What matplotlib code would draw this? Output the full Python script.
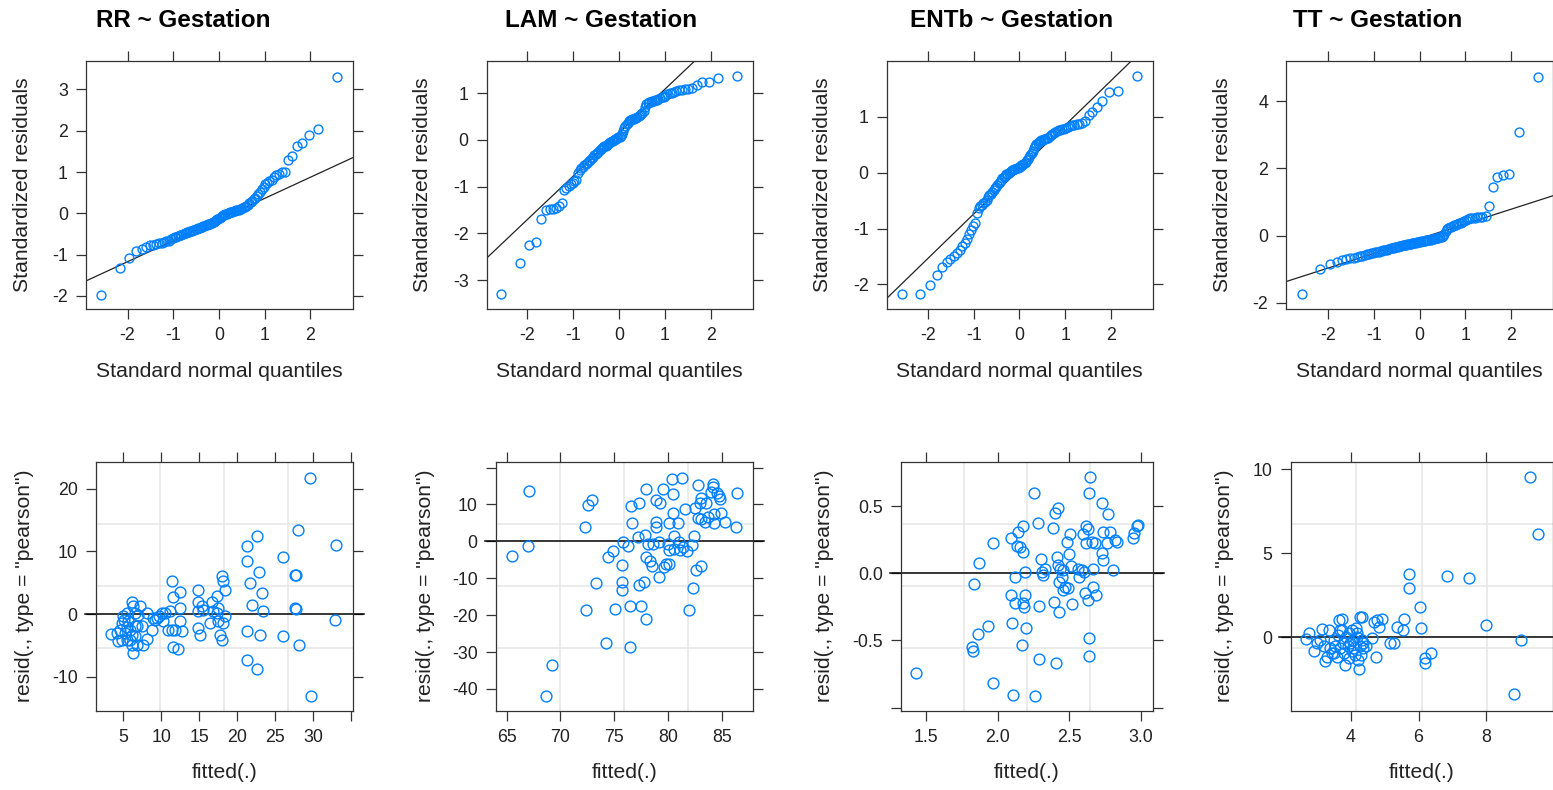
"""Lattice-style residual diagnostics for four gestation models (QQ + Pearson residuals)."""

import matplotlib

matplotlib.use("Agg")
import matplotlib.pyplot as plt

# ---------------------------------------------------------------- data
models = ["RR", "LAM", "ENTb", "TT"]

# theoretical normal quantiles of the 100 residuals (same for every model)
qq_quantiles = [
    -2.576, -2.170, -1.960, -1.812, -1.695, -1.598, -1.514, -1.440, -1.372, -1.311,
    -1.254, -1.200, -1.150, -1.103, -1.058, -1.015, -0.974, -0.935, -0.896, -0.860,
    -0.824, -0.789, -0.755, -0.722, -0.690, -0.659, -0.628, -0.598, -0.568, -0.539,
    -0.510, -0.482, -0.454, -0.426, -0.399, -0.372, -0.345, -0.319, -0.292, -0.266,
    -0.240, -0.215, -0.189, -0.164, -0.138, -0.113, -0.088, -0.063, -0.038, -0.013,
    0.013, 0.038, 0.063, 0.088, 0.113, 0.138, 0.164, 0.189, 0.215, 0.240,
    0.266, 0.292, 0.319, 0.345, 0.372, 0.399, 0.426, 0.454, 0.482, 0.510,
    0.539, 0.568, 0.598, 0.628, 0.659, 0.690, 0.722, 0.755, 0.789, 0.824,
    0.860, 0.896, 0.935, 0.974, 1.015, 1.058, 1.103, 1.150, 1.200, 1.254,
    1.311, 1.372, 1.440, 1.514, 1.598, 1.695, 1.812, 1.960, 2.170, 2.576,
]

rr_std_resid = [
    -1.97, -1.32, -1.09, -0.92, -0.86, -0.81, -0.78, -0.77, -0.75, -0.73,
    -0.71, -0.70, -0.68, -0.66, -0.63, -0.60, -0.58, -0.57, -0.55, -0.53,
    -0.52, -0.50, -0.49, -0.47, -0.46, -0.45, -0.44, -0.42, -0.41, -0.40,
    -0.39, -0.38, -0.36, -0.35, -0.34, -0.33, -0.32, -0.31, -0.29, -0.28,
    -0.27, -0.26, -0.25, -0.24, -0.22, -0.21, -0.19, -0.17, -0.15, -0.13,
    -0.11, -0.09, -0.07, -0.05, -0.03, -0.02, -0.01, 0.00, 0.01, 0.02,
    0.03, 0.04, 0.05, 0.06, 0.07, 0.08, 0.09, 0.10, 0.11, 0.12,
    0.14, 0.16, 0.18, 0.21, 0.24, 0.27, 0.30, 0.34, 0.38, 0.42,
    0.47, 0.52, 0.58, 0.64, 0.70, 0.74, 0.77, 0.80, 0.88, 0.93,
    0.96, 0.99, 1.01, 1.28, 1.39, 1.64, 1.70, 1.90, 2.05, 3.30,
]
lam_std_resid = [
    -3.30, -2.64, -2.26, -2.19, -1.69, -1.49, -1.48, -1.47, -1.45, -1.41,
    -1.36, -1.07, -1.02, -0.98, -0.95, -0.92, -0.88, -0.85, -0.70, -0.64,
    -0.60, -0.57, -0.54, -0.51, -0.49, -0.46, -0.42, -0.39, -0.36, -0.33,
    -0.31, -0.29, -0.26, -0.22, -0.20, -0.18, -0.16, -0.14, -0.12, -0.10,
    -0.08, -0.06, -0.04, -0.03, -0.02, -0.01, 0.01, 0.02, 0.04, 0.06,
    0.07, 0.09, 0.12, 0.20, 0.26, 0.30, 0.34, 0.37, 0.40, 0.42,
    0.43, 0.44, 0.45, 0.46, 0.48, 0.50, 0.52, 0.54, 0.56, 0.58,
    0.62, 0.70, 0.76, 0.79, 0.81, 0.82, 0.83, 0.84, 0.85, 0.86,
    0.88, 0.90, 0.91, 0.92, 0.94, 0.98, 1.00, 1.01, 1.02, 1.04,
    1.06, 1.07, 1.08, 1.09, 1.11, 1.17, 1.23, 1.24, 1.33, 1.37,
]
entb_std_resid = [
    -2.18, -2.17, -2.01, -1.83, -1.68, -1.60, -1.54, -1.50, -1.44, -1.38,
    -1.32, -1.26, -1.18, -1.10, -1.02, -0.96, -0.90, -0.72, -0.64, -0.60,
    -0.57, -0.55, -0.52, -0.48, -0.44, -0.40, -0.38, -0.35, -0.31, -0.28,
    -0.25, -0.22, -0.19, -0.16, -0.13, -0.10, -0.07, -0.05, -0.03, -0.02,
    -0.01, 0.01, 0.03, 0.04, 0.05, 0.06, 0.07, 0.08, 0.09, 0.10,
    0.11, 0.13, 0.14, 0.15, 0.17, 0.19, 0.22, 0.25, 0.28, 0.31,
    0.35, 0.39, 0.44, 0.48, 0.51, 0.53, 0.55, 0.57, 0.58, 0.59,
    0.60, 0.61, 0.62, 0.63, 0.65, 0.67, 0.69, 0.71, 0.73, 0.75,
    0.76, 0.77, 0.78, 0.79, 0.80, 0.81, 0.83, 0.85, 0.86, 0.87,
    0.88, 0.89, 0.92, 1.04, 1.08, 1.18, 1.29, 1.45, 1.46, 1.73,
]
tt_std_resid = [
    -1.75, -0.99, -0.85, -0.80, -0.73, -0.70, -0.68, -0.66, -0.64, -0.62,
    -0.60, -0.58, -0.56, -0.54, -0.53, -0.52, -0.50, -0.49, -0.48, -0.46,
    -0.45, -0.44, -0.43, -0.42, -0.41, -0.39, -0.38, -0.37, -0.36, -0.35,
    -0.34, -0.33, -0.32, -0.31, -0.30, -0.29, -0.29, -0.28, -0.27, -0.26,
    -0.25, -0.25, -0.24, -0.23, -0.22, -0.22, -0.21, -0.20, -0.20, -0.19,
    -0.18, -0.17, -0.17, -0.16, -0.15, -0.14, -0.14, -0.13, -0.12, -0.12,
    -0.11, -0.10, -0.09, -0.08, -0.07, -0.06, -0.05, -0.04, -0.03, -0.02,
    0.05, 0.14, 0.18, 0.21, 0.24, 0.26, 0.28, 0.30, 0.32, 0.34,
    0.36, 0.38, 0.40, 0.43, 0.46, 0.49, 0.51, 0.52, 0.53, 0.54,
    0.55, 0.56, 0.58, 0.89, 1.45, 1.74, 1.81, 1.84, 3.07, 4.73,
]

# reference line of each QQ panel (slope, intercept)
qq_line_slope = [0.512, 0.929, 0.793, 0.439]
qq_line_intercept = [-0.15, 0.155, 0.057, -0.093]

rr_fitted = [
    3.34, 4.13, 4.35, 4.57, 4.79, 4.79, 5.0, 5.1, 5.22, 5.44, 5.44, 5.44, 5.66, 5.88,
    5.88, 6.1, 6.1, 6.1, 6.31, 6.31, 6.53, 6.53, 6.53, 6.75, 6.75, 6.97, 7.19, 7.41,
    7.63, 8.07, 8.07, 8.73, 8.95, 9.17, 9.39, 9.74, 10.05, 10.27, 10.48, 10.92, 11.14,
    11.36, 11.36, 11.58, 11.58, 11.8, 12.24, 12.46, 12.46, 12.46, 12.67, 14.87, 14.87,
    14.87, 14.87, 15.09, 15.3, 15.53, 16.4, 16.62, 16.84, 17.28, 17.28, 17.5, 17.5,
    17.72, 17.94, 17.94, 18.16, 18.16, 18.38, 18.38, 21.24, 21.24, 21.24, 21.24, 21.68,
    21.9, 22.56, 22.56, 22.9, 23.0, 23.2, 23.4, 25.95, 26.04, 27.57, 27.7, 27.57, 27.7,
    28.0, 28.1, 29.6, 29.7, 33.0, 32.9,
]
rr_pearson = [
    -3.19, -3.03, -4.36, -2.5, -1.44, -4.1, -0.38, -0.9, -3.03, -4.1, -2.0, 0.16, -1.17,
    -2.5, -4.1, 2.01, -5.0, -3.3, -6.17, 1.22, 0.16, -3.56, -1.97, -1.97, -5.0, -0.1,
    1.22, -1.97, -4.87, -3.91, 0.16, -2.5, -0.64, -0.91, -0.64, -0.38, 0.16, -1.17, 0.16,
    -2.5, 0.42, -2.5, 5.2, 2.8, -5.27, -2.5, -5.53, 3.6, 0.95, -1.17, -2.76, 3.86, 2.01,
    0.42, -2.23, -3.3, 1.22, 0.69, -1.44, 2.01, 0.42, 2.81, 0.16, 0.95, -1.17, -3.3,
    -4.1, 6.1, 5.2, -1.44, 3.86, -0.38, 10.78, 8.4, -2.76, -7.3, 5.0, 1.49, 12.5, -8.8,
    6.7, -3.3, 3.3, 0.42, 9.1, -3.56, 6.24, 6.3, 0.95, 0.8, 13.4, -5.0, 21.7, -13.0,
    11.0, -1.0,
]

lam_fitted = [
    65.47, 67.11, 67.01, 68.69, 69.22, 72.32, 72.42, 72.57, 72.94, 73.35, 74.22, 74.43,
    74.9, 75.06, 75.77, 75.83, 75.77, 75.77, 76.3, 76.5, 76.5, 76.6, 76.7, 77.23, 77.3,
    77.3, 77.5, 77.8, 77.9, 78.0, 78.0, 78.0, 78.1, 78.3, 78.5, 78.6, 78.9, 78.9, 78.9,
    79.2, 79.2, 79.3, 79.5, 79.6, 79.8, 80.0, 80.1, 80.1, 80.1, 80.4, 80.5, 80.5, 80.6,
    80.6, 80.9, 81.0, 81.1, 81.3, 81.4, 81.6, 81.8, 82.0, 82.2, 82.3, 82.4, 82.5, 82.6,
    82.8, 82.8, 83.0, 83.1, 83.1, 83.1, 83.4, 83.5, 83.7, 84.0, 84.2, 84.2, 84.3, 84.3,
    84.6, 84.7, 84.8, 84.9, 85.3, 86.3, 86.4,
]
lam_pearson = [
    -3.99, 13.64, -1.2, -41.9, -33.6, 3.9, -18.6, 9.99, 11.25, -11.4, -27.6, -4.35,
    -2.6, -18.4, -6.4, -0.1, -11.1, -13.1, -1.2, -28.6, -17.5, 9.5, 5.0, 1.2, 10.4,
    -11.7, -17.4, -10.9, 1.7, 14.1, -4.3, -21.1, -0.6, -5.2, -6.7, -0.6, 11.2, 4.0, 5.3,
    -0.1, -9.6, 10.5, 14.1, -7.0, -6.1, -0.6, 4.9, -2.3, -6.1, 16.9, 12.8, 7.8, 1.5,
    -2.2, 4.9, -0.3, -2.4, 17.3, -1.6, 8.8, -2.5, -18.6, -0.9, -12.6, 1.4, 9.1, -7.7,
    15.4, 6.3, 10.4, -6.8, 11.7, 6.2, 5.3, 10.4, 6.6, 13.4, 15.6, 14.7, 7.4, 4.9,
    13.1, 12.2, 11.5, 7.8, 5.3, 4.0, 13.2,
]

entb_fitted = [
    1.430, 1.835, 1.819, 1.826, 1.865, 1.872, 1.935, 1.965, 1.970, 2.091, 2.091, 2.098,
    2.110, 2.121, 2.121, 2.133, 2.144, 2.156, 2.168, 2.175, 2.179, 2.179, 2.184, 2.191,
    2.191, 2.198, 2.254, 2.261, 2.284, 2.291, 2.291, 2.300, 2.307, 2.319, 2.330, 2.384,
    2.393, 2.400, 2.407, 2.416, 2.423, 2.423, 2.430, 2.430, 2.435, 2.447, 2.454, 2.458,
    2.470, 2.481, 2.493, 2.500, 2.505, 2.510, 2.516, 2.563, 2.570, 2.586, 2.593, 2.603,
    2.610, 2.617, 2.617, 2.633, 2.633, 2.640, 2.644, 2.640, 2.640, 2.656, 2.668, 2.668,
    2.679, 2.686, 2.726, 2.726, 2.733, 2.737, 2.761, 2.772, 2.784, 2.803, 2.819, 2.830,
    2.947, 2.951, 2.970, 2.982,
]
entb_pearson = [
    -0.745, -0.082, -0.546, -0.58, -0.455, 0.079, -0.393, -0.82, 0.223, 0.265, -0.163,
    -0.368, -0.906, -0.025, -0.224, 0.203, 0.310, 0.198, -0.534, 0.161, 0.352, -0.219,
    -0.248, -0.163, 0.012, -0.41, 0.600, -0.911, 0.377, -0.641, -0.243, 0.104, 0.012,
    -0.013, 0.029, 0.335, -0.211, 0.452, -0.67, 0.122, 0.484, 0.060, -0.062, -0.285,
    0.035, -0.025, -0.124, 0.022, -0.099, 0.236, -0.111, 0.146, 0.293, 0.057, -0.228,
    0.035, -0.025, 0.022, 0.293, 0.012, -0.149, 0.352, 0.228, 0.327, -0.199, 0.600,
    0.714, -0.479, -0.616, 0.236, -0.099, 0.035, 0.223, -0.163, 0.526, 0.149, 0.099,
    0.310, 0.223, 0.442, 0.310, 0.022, 0.248, 0.236, 0.260, 0.298, 0.352, 0.360,
]

tt_fitted = [
    2.68, 2.77, 2.91, 3.01, 3.09, 3.14, 3.19, 3.24, 3.29, 3.34, 3.39, 3.44, 3.49, 3.49,
    3.54, 3.58, 3.63, 3.66, 3.68, 3.68, 3.73, 3.73, 3.76, 3.80, 3.83, 3.86, 3.90, 3.93,
    3.93, 3.98, 4.03, 4.03, 4.06, 4.10, 4.13, 4.16, 4.18, 4.18, 4.20, 4.23, 4.26, 4.28,
    4.30, 4.33, 4.33, 4.35, 4.37, 4.45, 4.62, 4.69, 4.75, 4.77, 4.82, 4.92, 5.16, 5.26,
    5.36, 5.54, 5.58, 5.71, 5.71, 6.03, 6.07, 6.20, 6.20, 6.37, 6.84, 7.49, 7.98, 8.82,
    9.02, 9.29, 9.53,
]
tt_pearson = [
    -0.12, 0.28, -0.79, -0.36, -0.15, 0.48, -0.54, -1.39, -1.15, 0.43, -0.64, -0.94,
    -0.15, -0.94, -0.54, -1.15, 0.13, 1.0, -0.64, 0.43, 1.1, 0.43, -0.36, -0.94, -1.65,
    0.03, -0.54, -1.25, 0.23, -0.36, -0.84, 0.43, -0.15, -0.64, -1.05, 0.58, 0.03, 0.23,
    -1.35, -1.9, 1.22, -0.54, -1.05, 1.22, -0.15, -0.64, -0.36, -0.54, -0.05, 0.88,
    -1.19, 1.0, 0.63, 1.1, -0.34, -0.34, 0.63, 0.43, 1.1, 3.74, 2.96, 1.82, 0.57, -1.21,
    -1.55, -0.94, 3.66, 3.51, 0.73, -3.4, -0.15, 9.52, 6.17,
]

qq_resid = [rr_std_resid, lam_std_resid, entb_std_resid, tt_std_resid]
fitted = [rr_fitted, lam_fitted, entb_fitted, tt_fitted]
pearson = [rr_pearson, lam_pearson, entb_pearson, tt_pearson]

qq_yticks = [[-2, -1, 0, 1, 2, 3], [-3, -2, -1, 0, 1], [-2, -1, 0, 1], [-2, 0, 2, 4]]
res_xticks = [[5, 10, 15, 20, 25, 30, 35], [65, 70, 75, 80, 85], [1.5, 2.0, 2.5, 3.0], [4, 6, 8]]
res_xlabels = [["5", "10", "15", "20", "25", "30", ""], ["65", "70", "75", "80", "85"],
               ["1.5", "2.0", "2.5", "3.0"], ["4", "6", "8"]]
res_yticks = [[-10, 0, 10, 20], [-40, -30, -20, -10, 0, 10, 20], [-1.0, -0.5, 0.0, 0.5], [0, 5, 10]]
res_ylabels = [["-10", "0", "10", "20"], ["-40", "-30", "-20", "-10", "0", "10", ""],
               ["", "-0.5", "0.0", "0.5"], ["0", "5", "10"]]

# ---------------------------------------------------------------- layout (pixels)
W, H = 1553, 790
QQ_BOX = [(86, 353), (486.7, 752.7), (886.7, 1152.7), (1286.3, 1552.5)]
QQ_TOP, QQ_BOTTOM = 61, 309
RES_BOX = [(95.7, 352.7), (495.7, 752.7), (901, 1153), (1290.7, 1552.5)]
RES_TOP, RES_BOTTOM = 461.7, 710.7
QQ_XLIM = [(-2.91, 2.93), (-2.89, 2.92), (-2.91, 2.92), (-2.91, 2.90)]
QQ_YLIM = [(-2.32, 3.69), (-3.62, 1.69), (-2.44, 2.0), (-2.19, 5.2)]
RES_XLIM = [(1.37, 35.18), (63.98, 87.88), (1.326, 3.084), (2.22, 9.96)]
RES_YLIM = [(-15.4, 24.3), (-45.9, 21.6), (-1.023, 0.831), (-4.37, 10.45)]
TITLE_X = [183, 600.7, 1012, 1378]
YLAB_X_TOP = [23, 423, 823, 1223]
YLAB_X_BOT = [25, 425, 825, 1225]

POINT = "#0080ff"
INK = "#222222"
FRAME = "#333333"
GRID = "#e6e6e6"

plt.rcParams.update({
    "font.family": ["Liberation Sans", "DejaVu Sans"],
    "axes.unicode_minus": False,
})

fig = plt.figure(figsize=(W / 100, H / 100), dpi=100, facecolor="white")


def add_panel(left, right, top, bottom):
    ax = fig.add_axes([left / W, 1 - bottom / H, (right - left) / W, (bottom - top) / H])
    for spine in ax.spines.values():
        spine.set_color(FRAME)
        spine.set_linewidth(0.9)
    ax.tick_params(direction="out", length=7, width=0.9, color=FRAME, labelcolor=INK,
                   top=True, right=True, labeltop=False, labelright=False,
                   labelsize=12.8, pad=6)
    return ax


for i, name in enumerate(models):
    # --- normal QQ plot of standardized residuals
    ax = add_panel(QQ_BOX[i][0], QQ_BOX[i][1], QQ_TOP, QQ_BOTTOM)
    x0, x1 = QQ_XLIM[i]
    ax.plot([x0, x1], [qq_line_intercept[i] + qq_line_slope[i] * x0,
                       qq_line_intercept[i] + qq_line_slope[i] * x1],
            color=INK, linewidth=0.9, zorder=2)
    ax.plot(qq_quantiles, qq_resid[i], linestyle="none", marker="o", markersize=6.4,
            markerfacecolor="none", markeredgecolor=POINT, markeredgewidth=1.0, zorder=3)
    ax.set_xlim(QQ_XLIM[i])
    ax.set_ylim(QQ_YLIM[i])
    ax.set_xticks([-2, -1, 0, 1, 2], ["-2", "-1", "0", "1", "2"])
    ax.set_yticks(qq_yticks[i], [str(v) for v in qq_yticks[i]])

    centre = (QQ_BOX[i][0] + QQ_BOX[i][1]) / 2
    fig.text(TITLE_X[i] / W, 1 - 27 / H, f"{name} ~ Gestation", ha="center", va="baseline",
             fontsize=17.5, fontweight="bold", color="black")
    fig.text(centre / W, 1 - 377 / H, "Standard normal quantiles", ha="center", va="baseline",
             fontsize=15.2, color=INK)
    fig.text(YLAB_X_TOP[i] / W, 1 - (QQ_TOP + QQ_BOTTOM) / 2 / H, "Standardized residuals",
             ha="center", va="center", rotation=90, fontsize=15.2, color=INK)

    # --- Pearson residuals against fitted values
    ax = add_panel(RES_BOX[i][0], RES_BOX[i][1], RES_TOP, RES_BOTTOM)
    gx0, gx1 = RES_XLIM[i]
    gy0, gy1 = RES_YLIM[i]
    for k in (1, 2, 3):
        ax.axvline(gx0 + (gx1 - gx0) * k / 4, color=GRID, linewidth=1.1, zorder=1)
        ax.axhline(gy0 + (gy1 - gy0) * k / 4, color=GRID, linewidth=1.1, zorder=1)
    ax.axhline(0, xmin=-0.043, xmax=1.043, color="black", linewidth=1.1, clip_on=False, zorder=2)
    ax.plot(fitted[i], pearson[i], linestyle="none", marker="o", markersize=7.8,
            markerfacecolor="none", markeredgecolor=POINT, markeredgewidth=1.0, zorder=3)
    ax.set_xlim(RES_XLIM[i])
    ax.set_ylim(RES_YLIM[i])
    ax.set_xticks(res_xticks[i], res_xlabels[i])
    ax.set_yticks(res_yticks[i], res_ylabels[i])

    centre = (RES_BOX[i][0] + RES_BOX[i][1]) / 2
    fig.text(centre / W, 1 - 778 / H, "fitted(.)", ha="center", va="baseline",
             fontsize=15.2, color=INK)
    fig.text(YLAB_X_BOT[i] / W, 1 - (RES_TOP + RES_BOTTOM) / 2 / H, 'resid(., type = "pearson")',
             ha="center", va="center", rotation=90, fontsize=15.2, color=INK)

fig.savefig("out.png", dpi=100, facecolor="white")
